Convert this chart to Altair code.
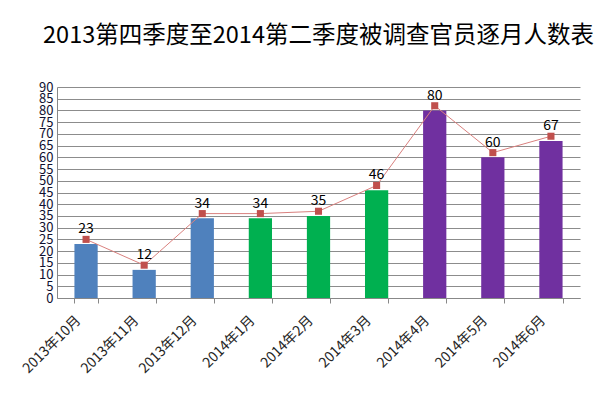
import altair as alt
import pandas as pd

months = ["2013年10月", "2013年11月", "2013年12月", "2014年1月", "2014年2月",
          "2014年3月", "2014年4月", "2014年5月", "2014年6月"]
counts = [23, 12, 34, 34, 35, 46, 80, 60, 67]
line_vals = [25, 14, 36, 36, 37, 48, 82, 62, 69]
quarters = ["2013Q4", "2013Q4", "2013Q4", "2014Q1", "2014Q1", "2014Q1",
            "2014Q2", "2014Q2", "2014Q2"]
quarter_names = ["2013Q4", "2014Q1", "2014Q2"]
quarter_colors = ["#4F81BD", "#00B050", "#7030A0"]
y_ticks = list(range(0, 95, 5))

df = pd.DataFrame({"month": months, "count": counts, "line": line_vals, "q": quarters})

FONT = "Noto Sans CJK SC"

x = alt.X("month:N", sort=months, title=None,
          scale=alt.Scale(paddingInner=0.6, paddingOuter=0.3),
          axis=alt.Axis(labelAngle=-45, labelAlign="right", labelBaseline="middle",
                        labelFontSize=14, labelColor="#262626", labelFont=FONT,
                        labelPadding=15, labelOffset=-8, tickBand="extent", tickSize=5,
                        tickColor="#888888", domainColor="#888888", grid=False,
                        labelOverlap=False))

y_scale = alt.Scale(domain=[0, 90], nice=False)
y_axis = alt.Axis(values=y_ticks, labelFontSize=13, labelColor="#101030",
                  labelFont=FONT, ticks=False, labelPadding=4,
                  labelOverlap=False, labelBound=False, labelFlush=False,
                  gridColor="#8c8c8c", gridWidth=1, domainColor="#888888")

bars = alt.Chart(df).mark_bar().encode(
    x=x,
    y=alt.Y("count:Q", title=None, scale=y_scale, axis=y_axis),
    color=alt.Color("q:N", scale=alt.Scale(domain=quarter_names, range=quarter_colors),
                    legend=None),
)

y_line = alt.Y("line:Q", title=None, scale=y_scale, axis=y_axis)

line = alt.Chart(df).mark_line(color="#D9807E", strokeWidth=1).encode(
    x=x, y=y_line)

pts = alt.Chart(df).mark_point(shape="square", filled=True, size=50, opacity=1,
                               color="#C0504D").encode(
    x=x, y=y_line)

labels = alt.Chart(df).mark_text(dy=-10, fontSize=14, font=FONT, color="#000000").encode(
    x=x, y=y_line, text="count:Q")

chart = alt.layer(bars, line, pts, labels).properties(
    width=523, height=211,
    autosize=alt.AutoSizeParams(type="none"),
    padding={"left": 49, "top": 79, "right": 16, "bottom": 90},
    title=alt.TitleParams("2013第四季度至2014第二季度被调查官员逐月人数表",
                          fontSize=23.5, font=FONT, fontWeight="normal",
                          color="#000000", anchor="middle", offset=34),
).configure_view(stroke=None)

chart.save("out.html", embed_options={"renderer": "svg", "actions": False})
